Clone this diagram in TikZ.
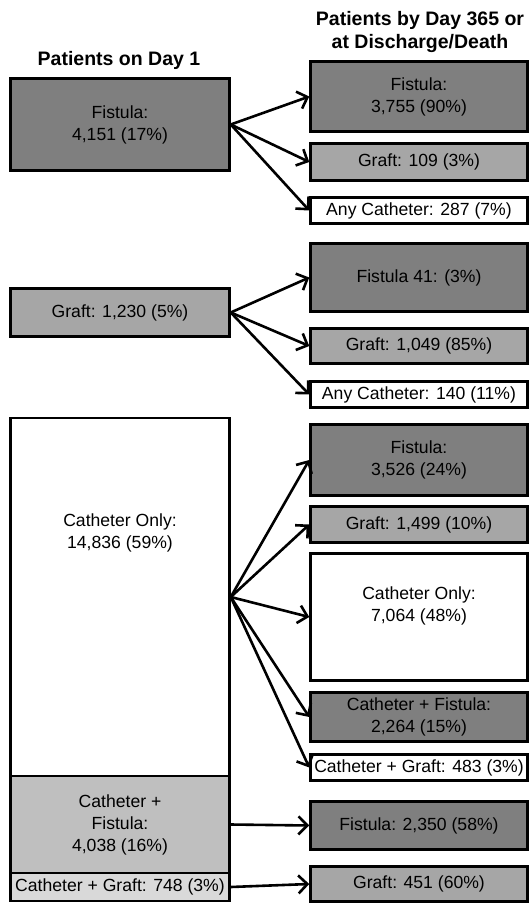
\documentclass[tikz,border=0pt]{standalone}
\usepackage{fontspec}
\setmainfont{Liberation Sans}
\usepackage{xcolor}
\usetikzlibrary{arrows.meta}

\definecolor{fistgray}{HTML}{7F7F7F}
\definecolor{graftgray}{HTML}{A6A6A6}
\definecolor{cfgray}{HTML}{BFBFBF}
\definecolor{cggray}{HTML}{D9D9D9}

\begin{document}
\begin{tikzpicture}[x=1pt, y=-1pt,
    >={Straight Barb[length=9pt,width=18pt]},
    box/.style={draw, line width=2.5pt, inner sep=0pt, align=center,
                font=\fontsize{17.6}{22}\selectfont},
    leftbox/.style={box, minimum width=219pt},
    rightbox/.style={box, minimum width=217pt},
    boxtext/.style={align=center, font=\fontsize{17.6}{22}\selectfont},
    head/.style={align=center, font=\fontsize{19.5}{23}\selectfont\bfseries},
    flow/.style={->, line width=2.6pt}]
\useasboundingbox (0,0) rectangle (531,904);

\node[head] (hleft) at (119,60) {Patients on Day 1};
\node[head] (hright) at (420,32) {Patients by Day 365 or\\at Discharge/Death};

% patients on day 1
\node[leftbox, fill=fistgray, minimum height=92pt] (fist1) at (120,124.5) {Fistula:\\4,151 (17\%)};
\node[leftbox, fill=graftgray, minimum height=48pt] (graft1) at (120,312.5) {Graft: 1,230 (5\%)};
\node[leftbox, fill=white, minimum height=358pt] (cath1) at (120,597) {};
\node[boxtext] (cath1text) at (120,533) {Catheter Only:\\14,836 (59\%)};
\node[leftbox, fill=cfgray, minimum height=97pt] (cathfist1) at (120,824.5) {Catheter +\\Fistula:\\4,038 (16\%)};
\node[leftbox, fill=cggray, minimum height=28pt] (cathgraft1) at (120,887) {Catheter + Graft: 748 (3\%)};

% patients by day 365
\node[rightbox, fill=fistgray, minimum height=70pt] (fist2) at (419,96.5) {Fistula:\\3,755 (90\%)};
\node[rightbox, fill=graftgray, minimum height=37pt] (graft2) at (419,162) {Graft: 109 (3\%)};
\node[rightbox, fill=white, minimum height=26pt] (cath2) at (419,210.5) {Any Catheter: 287 (7\%)};

\node[rightbox, fill=fistgray, minimum height=68pt] (fist3) at (419,277.5) {Fistula 41: (3\%)};
\node[rightbox, fill=graftgray, minimum height=35pt] (graft3) at (419,346) {Graft: 1,049 (85\%)};
\node[rightbox, fill=white, minimum height=26pt] (cath3) at (419,394.5) {Any Catheter: 140 (11\%)};

\node[rightbox, fill=fistgray, minimum height=71pt] (fist4) at (419,460) {Fistula:\\3,526 (24\%)};
\node[rightbox, fill=graftgray, minimum height=36pt] (graft4) at (419,524.5) {Graft: 1,499 (10\%)};
\node[rightbox, fill=white, minimum height=127pt] (cath4) at (419,617) {};
\node[boxtext] (cath4text) at (419,606) {Catheter Only:\\7,064 (48\%)};
\node[rightbox, fill=fistgray, minimum height=49pt] (cathfist4) at (419,717) {Catheter + Fistula:\\2,264 (15\%)};
\node[rightbox, fill=white, minimum height=26pt] (cathgraft4) at (419,767.5) {Catheter + Graft: 483 (3\%)};

\node[rightbox, fill=fistgray, minimum height=48pt] (fist5) at (419,825.5) {Fistula: 2,350 (58\%)};
\node[rightbox, fill=graftgray, minimum height=35pt] (graft5) at (419,884) {Graft: 451 (60\%)};

% arrows
\draw[flow] (fist1.east) -- (fist2.west);
\draw[flow] (fist1.east) -- (graft2.west);
\draw[flow] (fist1.east) -- (cath2.west);

\draw[flow] (graft1.east) -- (fist3.west);
\draw[flow] (graft1.east) -- (graft3.west);
\draw[flow] (graft1.east) -- (cath3.west);

\draw[flow] (cath1.east) -- (fist4.west);
\draw[flow] (cath1.east) -- (graft4.west);
\draw[flow] (cath1.east) -- (cath4.west);
\draw[flow] (cath1.east) -- (cathfist4.west);
\draw[flow] (cath1.east) -- (cathgraft4.west);

\draw[flow] (cathfist1.east) -- (fist5.west);
\draw[flow] (cathgraft1.east) -- (graft5.west);
\end{tikzpicture}
\end{document}
